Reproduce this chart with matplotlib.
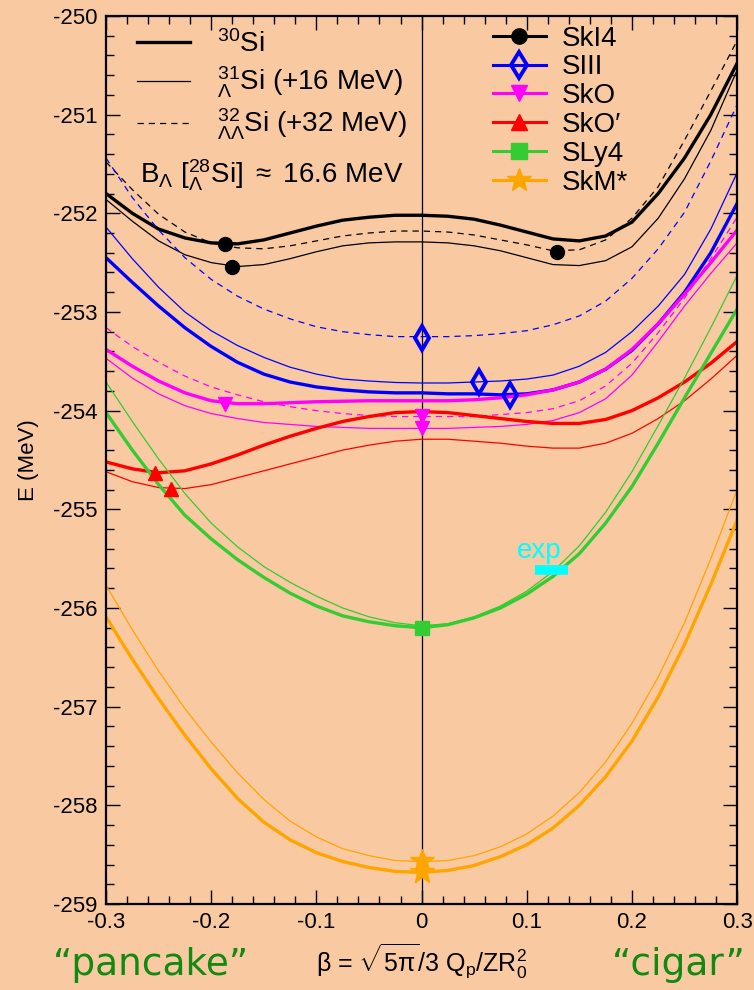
import matplotlib
matplotlib.use("Agg")
import matplotlib.pyplot as plt
from matplotlib.lines import Line2D

plt.rcParams.update({
    "font.family": ["Liberation Sans", "DejaVu Sans"],
    "mathtext.fontset": "custom",
    "mathtext.rm": "Liberation Sans",
    "mathtext.it": "Liberation Sans",
    "mathtext.bf": "Liberation Sans:bold",
    "axes.unicode_minus": False,
})

BG = "#F9C9A2"

# ── data ──
beta = [-0.3, -0.275, -0.25, -0.225, -0.2, -0.175, -0.15, -0.125, -0.1, -0.075, -0.05, -0.025, 0.0,
        0.025, 0.05, 0.075, 0.1, 0.125, 0.15, 0.175, 0.2, 0.225, 0.25, 0.275, 0.3]

# SkI4
ski4_30 = [-251.80, -252.00, -252.16, -252.25, -252.30, -252.31, -252.27, -252.20, -252.13, -252.07, -252.04, -252.02, -252.02,
           -252.03, -252.06, -252.12, -252.19, -252.26, -252.28, -252.23, -252.09, -251.80, -251.44, -251.00, -250.48]
ski4_31 = [-251.86, -252.08, -252.28, -252.42, -252.50, -252.54, -252.52, -252.46, -252.39, -252.33, -252.30, -252.29, -252.29,
           -252.30, -252.33, -252.38, -252.45, -252.52, -252.53, -252.48, -252.34, -252.05, -251.65, -251.16, -250.55]
ski4_32 = [-251.48, -251.76, -252.01, -252.19, -252.30, -252.35, -252.36, -252.33, -252.28, -252.23, -252.20, -252.18, -252.18,
           -252.19, -252.22, -252.27, -252.32, -252.38, -252.37, -252.27, -252.05, -251.73, -251.26, -250.76, -250.25]
# SIII
siii_30 = [-252.45, -252.70, -252.94, -253.16, -253.35, -253.51, -253.63, -253.71, -253.76, -253.79, -253.81, -253.82, -253.82,
           -253.83, -253.83, -253.84, -253.83, -253.79, -253.71, -253.58, -253.39, -253.12, -252.80, -252.40, -251.90]
siii_31 = [-252.14, -252.46, -252.75, -253.00, -253.19, -253.34, -253.46, -253.56, -253.63, -253.68, -253.70, -253.715, -253.72,
           -253.72, -253.71, -253.70, -253.68, -253.64, -253.55, -253.41, -253.20, -252.94, -252.62, -252.16, -251.59]
siii_32 = [-251.44, -251.84, -252.17, -252.45, -252.67, -252.84, -252.97, -253.07, -253.15, -253.20, -253.23, -253.25, -253.25,
           -253.25, -253.24, -253.22, -253.19, -253.13, -253.04, -252.89, -252.66, -252.36, -251.99, -251.47, -250.90]
# SkO
sko_30 = [-253.38, -253.55, -253.70, -253.82, -253.90, -253.93, -253.93, -253.92, -253.91, -253.905, -253.90, -253.90, -253.90,
          -253.90, -253.89, -253.87, -253.84, -253.79, -253.71, -253.58, -253.38, -253.12, -252.82, -252.50, -252.17]
sko_31 = [-253.47, -253.67, -253.83, -253.95, -254.03, -254.08, -254.12, -254.14, -254.16, -254.17, -254.18, -254.18, -254.18,
          -254.18, -254.17, -254.16, -254.14, -254.10, -254.02, -253.88, -253.64, -253.30, -252.94, -252.61, -252.30]
sko_32 = [-253.16, -253.35, -253.51, -253.65, -253.76, -253.84, -253.91, -253.96, -254.00, -254.03, -254.05, -254.06, -254.06,
          -254.06, -254.06, -254.04, -254.02, -253.98, -253.90, -253.75, -253.52, -253.21, -252.86, -252.46, -252.04]
# SkO'
skop_30 = [-254.52, -254.59, -254.63, -254.61, -254.54, -254.45, -254.35, -254.26, -254.18, -254.11, -254.06, -254.02, -254.01,
           -254.02, -254.05, -254.08, -254.11, -254.13, -254.13, -254.09, -254.00, -253.87, -253.71, -253.52, -253.30]
skop_31 = [-254.62, -254.72, -254.78, -254.79, -254.75, -254.68, -254.61, -254.54, -254.47, -254.40, -254.35, -254.31, -254.29,
           -254.29, -254.31, -254.33, -254.36, -254.38, -254.38, -254.33, -254.23, -254.08, -253.90, -253.68, -253.44]
# SLy4
sly4_30 = [-254.02, -254.40, -254.75, -255.06, -255.30, -255.51, -255.69, -255.85, -255.98, -256.08, -256.14, -256.18, -256.20,
           -256.17, -256.10, -256.00, -255.86, -255.68, -255.45, -255.14, -254.77, -254.33, -253.87, -253.42, -252.97]
sly4_31 = [-253.71, -254.11, -254.49, -254.84, -255.14, -255.38, -255.58, -255.74, -255.88, -256.00, -256.09, -256.15, -256.18,
           -256.16, -256.09, -255.98, -255.83, -255.63, -255.37, -255.03, -254.62, -254.15, -253.67, -253.16, -252.63]
# SkM*
skm_30 = [-256.09, -256.52, -256.92, -257.29, -257.63, -257.93, -258.17, -258.35, -258.48, -258.57, -258.63, -258.67, -258.68,
          -258.66, -258.61, -258.52, -258.40, -258.23, -258.00, -257.71, -257.35, -256.90, -256.37, -255.76, -255.11]
skm_31 = [-255.77, -256.22, -256.64, -257.02, -257.36, -257.67, -257.94, -258.16, -258.32, -258.44, -258.51, -258.56, -258.57,
          -258.56, -258.51, -258.42, -258.29, -258.11, -257.87, -257.56, -257.17, -256.70, -256.15, -255.50, -254.80]

# minima markers
ski4_mb = [-0.187, -0.180, 0.129]
ski4_me = [-252.31, -252.54, -252.39]
siii_mb = [0.0, 0.055, 0.084]
siii_me = [-253.26, -253.71, -253.84]
sko_mb = [-0.187, 0.0, 0.0]
sko_me = [-253.93, -254.05, -254.18]
skop_mb = [-0.253, -0.238]
skop_me = [-254.63, -254.79]
sly4_mb = [0.0]
sly4_me = [-256.20]
skm_mb = [0.0, 0.0]
skm_me = [-258.56, -258.68]

exp_beta = [0.108, 0.139]
exp_E = [-255.62, -255.62]

# ── figure ──
fig = plt.figure(figsize=(7.54, 9.9), dpi=100, facecolor=BG)
ax = fig.add_axes([0.1406, 0.0869, 0.837, 0.897], facecolor=BG)

THICK, THIN = 2.4, 0.9
DASH = (0, (5, 4))

ax.axvline(0, color="black", lw=0.9, zorder=1)

ax.plot(beta, ski4_30, color="black", lw=THICK)
ax.plot(beta, ski4_31, color="black", lw=THIN)
ax.plot(beta, ski4_32, color="black", lw=THIN, ls=DASH)
ax.plot(beta, siii_30, color="#0000FF", lw=THICK)
ax.plot(beta, siii_31, color="#0000FF", lw=THIN)
ax.plot(beta, siii_32, color="#0000FF", lw=THIN, ls=DASH)
ax.plot(beta, sko_30, color="#FF00FF", lw=THICK)
ax.plot(beta, sko_31, color="#FF00FF", lw=THIN)
ax.plot(beta, sko_32, color="#FF00FF", lw=THIN, ls=DASH)
ax.plot(beta, skop_30, color="#FF0000", lw=THICK)
ax.plot(beta, skop_31, color="#FF0000", lw=THIN)
ax.plot(beta, sly4_30, color="#33CC33", lw=THICK)
ax.plot(beta, sly4_31, color="#33CC33", lw=THIN)
ax.plot(beta, skm_30, color="#FFA500", lw=THICK)
ax.plot(beta, skm_31, color="#FFA500", lw=THIN)

ax.plot(ski4_mb, ski4_me, "o", color="black", ms=10, ls="none")
ax.plot(siii_mb, siii_me, "d", color="#0000FF", mfc="none", mew=2.8, ms=12, ls="none")
ax.plot(sko_mb, sko_me, "v", color="#FF00FF", ms=10, ls="none")
ax.plot(skop_mb, skop_me, "^", color="#FF0000", ms=10, ls="none")
ax.plot(sly4_mb, sly4_me, "s", color="#33CC33", ms=10, ls="none")
ax.plot(skm_mb, skm_me, "*", color="#FFA500", ms=18, ls="none")

# experimental value
ax.plot(exp_beta, exp_E, color="cyan", lw=7, solid_capstyle="butt")
ax.text(0.112, -255.42, "exp", color="cyan", fontsize=20, ha="center", va="center")

ax.set_xlim(-0.3, 0.3)
ax.set_ylim(-259, -250)
ax.set_xticks([-0.3, -0.2, -0.1, 0, 0.1, 0.2, 0.3])
ax.set_xticklabels(["-0.3", "-0.2", "-0.1", "0", "0.1", "0.2", "0.3"])
ax.set_xticks([i * 0.02 - 0.3 for i in range(31)], minor=True)
ax.set_yticks(range(-259, -249))
ax.set_yticks([-259 + i * 0.2 for i in range(46)], minor=True)
ax.tick_params(which="both", direction="in", top=True, right=True, labelsize=16, width=1.0, pad=6)
ax.tick_params(which="major", length=10)
ax.tick_params(which="minor", length=6)
for s in ax.spines.values():
    s.set_linewidth(1.6)

ax.set_ylabel("E (MeV)", fontsize=16, labelpad=10)
ax.set_xlabel(r"$\beta$ = $\sqrt{5\pi}$/3 Q$_\mathrm{p}$/ZR$_0^2$", fontsize=18, labelpad=6)

fig.text(0.20, 0.025, "\u201cpancake\u201d", color="#128A12", fontsize=27,
         family="DejaVu Sans", ha="center", va="center")
fig.text(0.900, 0.025, "\u201ccigar\u201d", color="#128A12", fontsize=27,
         family="DejaVu Sans", ha="center", va="center")

# legend: forces
force_handles = [
    Line2D([], [], color="black", lw=2.2, marker="o", ms=11),
    Line2D([], [], color="#0000FF", lw=2.2, marker="d", ms=13, mfc="none", mew=2.8),
    Line2D([], [], color="#FF00FF", lw=2.2, marker="v", ms=11),
    Line2D([], [], color="#FF0000", lw=2.2, marker="^", ms=11),
    Line2D([], [], color="#33CC33", lw=2.2, marker="s", ms=11),
    Line2D([], [], color="#FFA500", lw=2.2, marker="*", ms=18),
]
force_labels = ["SkI4", "SIII", "SkO", "SkO\u2032", "SLy4", "SkM*"]
leg1 = ax.legend(force_handles, force_labels, loc="upper left", bbox_to_anchor=(0.597, 1.0),
                 frameon=False, fontsize=20, handlelength=1.94, handletextpad=0.55,
                 labelspacing=0.1, borderpad=0.0, borderaxespad=0.35)
ax.add_artist(leg1)

# legend: nuclei
nuc_handles = [
    Line2D([], [], color="black", lw=2.4),
    Line2D([], [], color="black", lw=0.9),
    Line2D([], [], color="black", lw=0.9, ls=DASH),
]
nuc_labels = [r"$^{30}$Si", r"${}^{31}_{\Lambda}$Si (+16 MeV)", r"${}^{32}_{\Lambda\Lambda}$Si (+32 MeV)"]
ax.legend(nuc_handles, nuc_labels, loc="upper left", bbox_to_anchor=(0.049, 0.984),
          frameon=False, fontsize=20, handlelength=1.9, handletextpad=1.0,
          labelspacing=0.25, borderpad=0.0, borderaxespad=0.0)

ax.text(0.054, 0.821, r"B$_\Lambda$ [${}^{28}_{\Lambda}$Si] $\approx$ 16.6 MeV", transform=ax.transAxes,
        fontsize=20, ha="left", va="center")

fig.savefig("out.png", dpi=100, facecolor=BG)
